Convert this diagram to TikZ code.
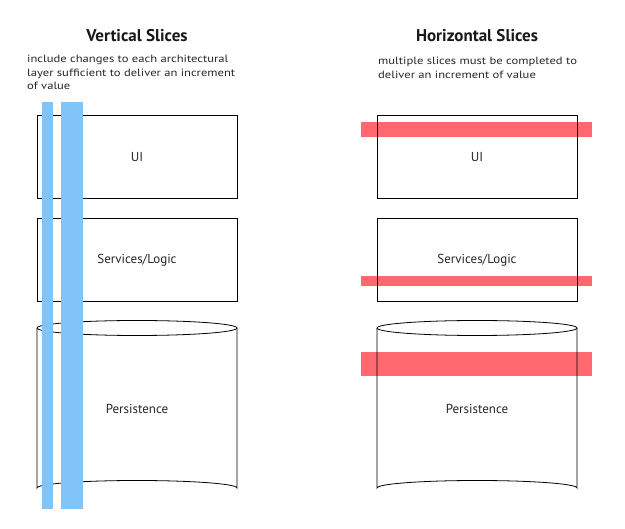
\documentclass[tikz,border=0pt]{standalone}
\usepackage{fontspec}
\setmainfont{PT Sans}
\newfontfamily\handnotefont[FakeStretch=1.2]{PT Sans}
\begin{document}
\begin{tikzpicture}[x=1pt,y=-1pt,
  layerbox/.style={draw=black,line width=0.8pt},
  layerlabel/.style={font=\fontsize{13}{15}\selectfont,text=black!85},
  titletext/.style={font=\bfseries\fontsize{17}{20}\selectfont,text=black!90},
  notetext/.style={font=\handnotefont\fontsize{10.5}{13.5}\selectfont,text=black!85,align=left,anchor=north west,inner sep=0pt},
  blueslice/.style={fill={rgb,255:red,128;green,196;blue,248},draw=none},
  redslice/.style={fill={rgb,255:red,255;green,104;blue,110},draw=none}]
\useasboundingbox (0,0) rectangle (625,529);

% ---------- Left: Vertical slices ----------
\node[titletext] (vtitle) at (137,36) {Vertical Slices};
\node[notetext] (vnote) at (27,55) {include changes to each architectural\\layer sufficient to deliver an increment\\of value};

\draw[layerbox] (37,115) rectangle (237,198);
\node[layerlabel] (vui) at (137,157) {UI};
\draw[layerbox] (37,218) rectangle (237,301);
\node[layerlabel] (vsvc) at (137,260) {Services/Logic};
\draw[layerbox] (37,328) -- (37,488) arc[start angle=180,end angle=360,x radius=100,y radius=7.5] -- (237,328);
\draw[layerbox] (137,328) ellipse[x radius=100,y radius=7.5];
\node[layerlabel] (vper) at (137,409) {Persistence};

\fill[blueslice] (42,102) rectangle (53,509);
\fill[blueslice] (61,102) rectangle (83,509);

% ---------- Right: Horizontal slices ----------
\node[titletext] (htitle) at (477,36) {Horizontal Slices};
\node[notetext] (hnote) at (378,57) {multiple slices must be completed to\\deliver an increment of value};

\fill[redslice] (361,122) rectangle (592,137.5);
\fill[redslice] (361,276) rectangle (592,286.5);
\fill[redslice] (361,352.5) rectangle (592,376.5);

\draw[layerbox] (377,115) rectangle (577,198);
\node[layerlabel] (hui) at (477,157) {UI};
\draw[layerbox] (377,218) rectangle (577,301);
\node[layerlabel] (hsvc) at (477,260) {Services/Logic};
\draw[layerbox] (377,328) -- (377,488) arc[start angle=180,end angle=360,x radius=100,y radius=7.5] -- (577,328);
\draw[layerbox] (477,328) ellipse[x radius=100,y radius=7.5];
\node[layerlabel] (hper) at (477,409) {Persistence};
\end{tikzpicture}
\end{document}
